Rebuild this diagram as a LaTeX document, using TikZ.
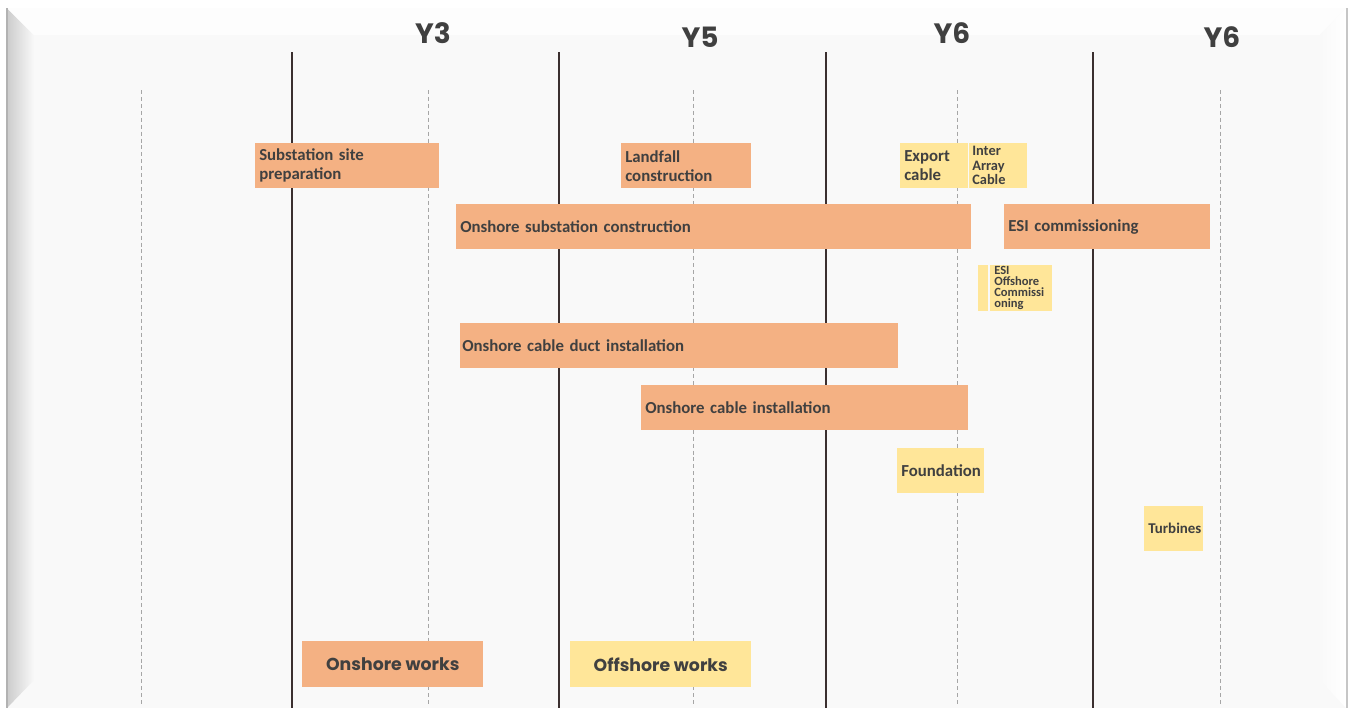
\documentclass[tikz,border=0pt]{standalone}
\usepackage{fontspec}
\setmainfont{Carlito}
\newfontfamily\headfont{Poppins}
\usepackage{tikz}
\usepackage{xcolor}
\definecolor{onshore}{HTML}{F4B183}
\definecolor{offshore}{HTML}{FFE699}
\definecolor{labelgrey}{HTML}{404040}
\definecolor{yearline}{HTML}{3B2F2F}
\definecolor{panel}{HTML}{F9F9F9}

\tikzset{
  bar/.style={anchor=north west, minimum height=33.75pt, inner xsep=3pt, inner ysep=0pt,
    align=left, text=labelgrey, font=\bfseries\fontsize{12.6}{14.2}\selectfont},
  onbar/.style={bar, fill=onshore},
  offbar/.style={bar, fill=offshore},
  legendbox/.style={anchor=north west, minimum width=135.75pt, minimum height=34.5pt, inner sep=0pt,
    text=labelgrey, font=\headfont\bfseries\fontsize{13}{15}\selectfont},
  yearlabel/.style={text=labelgrey, font=\headfont\bfseries\fontsize{21}{24}\selectfont},
  yearrule/.style={yearline, line width=0.9pt},
  halfrule/.style={gray!70, line width=0.6pt, dash pattern=on 3pt off 2.2pt},
}

\begin{document}
\begin{tikzpicture}[x=0.75pt, y=-0.75pt]
\useasboundingbox (0,0) rectangle (1352,708);
% frame
\fill[white] (0,0) rectangle (1352,708);
\fill[panel] (7,8) rectangle (1346,708);
\shade[left color=gray!40, right color=panel] (7,8) -- (34,35) -- (34,680) -- (7,708) -- cycle;
\fill[white!60!panel] (7,8) -- (1346,8) -- (1320,35) -- (34,35) -- cycle;
\shade[left color=panel, right color=white] (1320,35) -- (1346,8) -- (1346,708) -- (1320,680) -- cycle;
\draw[gray!60, line width=0.8pt] (7,8) -- (7,708);
\draw[gray!45, line width=1.2pt] (1347,8) -- (1347,708);

% grid
\foreach \gx in {292,559,826,1093}
  \draw[yearrule] (\gx,52) -- (\gx,708);
\foreach \gx in {141,428,693,957,1220}
  \draw[halfrule] (\gx,90) -- (\gx,705);

% years
\node[yearlabel] (y3) at (433,33) {Y3};
\node[yearlabel] (y5) at (700,37) {Y5};
\node[yearlabel] (y6a) at (952,33) {Y6};
\node[yearlabel] (y6b) at (1222,37) {Y6};

% onshore activities
\node[onbar, text width=132pt] (site) at (255,143) {Substation site\\preparation};
\node[onbar, text width=91.5pt] (landfall) at (621,143) {Landfall\\construction};
\node[onbar, text width=380.25pt] (substation) at (456,204) {Onshore substation construction};
\node[onbar, text width=148.5pt] (esi) at (1004,204) {ESI commissioning};
\node[onbar, text width=325.5pt, inner xsep=1.5pt] (duct) at (460,323) {Onshore cable duct installation};
\node[onbar, text width=239.25pt] (cable) at (641,385) {Onshore cable installation};

% offshore activities
\node[offbar, text width=45pt] (export) at (900,143) {Export\\cable};
\node[offbar, text width=39pt, inner xsep=2.25pt, font=\bfseries\fontsize{10.8}{10.9}\selectfont] (array) at (969,143) {Inter\\Array\\Cable};
\node[offbar, minimum width=7.5pt, minimum height=34.5pt, inner xsep=0pt] (esistrip) at (978,265) {};
\node[offbar, text width=40.5pt, minimum height=34.5pt, inner xsep=3pt, font=\bfseries\fontsize{9.4}{8.3}\selectfont] (esioff) at (990,265) {ESI\\Offshore\\Commissi\\oning};
\node[offbar, text width=59.25pt] (foundation) at (897,448) {Foundation};
\node[offbar, text width=38.25pt, inner xsep=3pt, font=\bfseries\fontsize{11.2}{12}\selectfont] (turbines) at (1144,506) {Turbines};

% legend
\node[legendbox, fill=onshore] (onleg) at (302,641) {Onshore works};
\node[legendbox, fill=offshore] (offleg) at (570,641) {Offshore works};
\end{tikzpicture}
\end{document}
